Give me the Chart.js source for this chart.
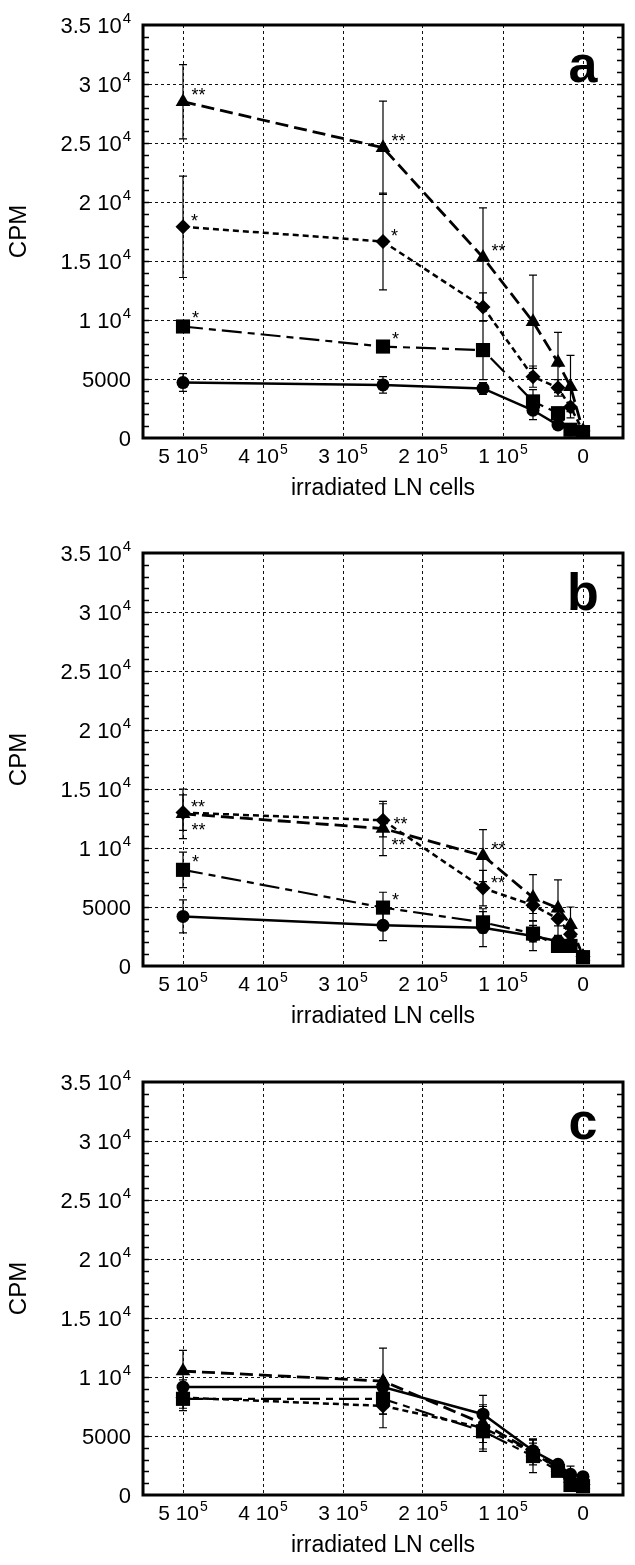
<!DOCTYPE html>
<html>
<head>
<meta charset="utf-8">
<script src="https://cdn.jsdelivr.net/npm/chart.js@4.4.1/dist/chart.umd.min.js"></script>
<style>
  body { margin: 0; background: #fff; }
  canvas { position: absolute; left: 0; }
</style>
</head>
<body>
<canvas id="panelA" width="635" height="528" style="top:0px;width:635px;height:528px"></canvas>
<canvas id="panelB" width="635" height="528" style="top:528px;width:635px;height:528px"></canvas>
<canvas id="panelC" width="635" height="508" style="top:1057px;width:635px;height:508px"></canvas>
<script>
// number of irradiated LN cells per well (x values, same for every series)
const cellCounts = [500000, 250000, 125000, 62500, 31250, 15625, 0];

// panel a  (CPM, mean and +/- error)
const circleA = [4700, 4500, 4200, 2350, 1100, 680, 450];
const circleErrA = [750, 700, 500, 800, 300, 200, 0];
const squareA = [9450, 7750, 7450, 3100, 2100, 700, 500];
const squareErrA = [300, 450, 2500, 1000, 500, 300, 0];
const diamondA = [17900, 16650, 11100, 5200, 4250, 2630, 600];
const diamondErrA = [4300, 4100, 1200, 900, 700, 400, 0];
const triangleA = [28500, 24600, 15300, 9850, 6400, 4350, 600];
const triangleErrA = [3150, 3950, 4200, 3950, 2550, 2650, 0];

// panel b
const circleB = [4200, 3450, 3250, 2550, 2100, 1700, 800];
const circleErrB = [1400, 1300, 1600, 1250, 500, 400, 0];
const squareB = [8150, 4950, 3700, 2750, 1700, 1700, 750];
const squareErrB = [1500, 1300, 900, 700, 300, 300, 0];
const diamondB = [13000, 12350, 6600, 5150, 4000, 2700, 800];
const diamondErrB = [1500, 1400, 1500, 700, 600, 400, 0];
const triangleB = [12900, 11650, 9350, 5800, 4900, 3500, 800];
const triangleErrB = [2100, 2300, 2200, 1950, 2400, 1500, 0];

// panel c
const circleC = [9150, 9150, 6850, 3750, 2600, 1750, 1550];
const circleErrC = [600, 600, 1600, 900, 300, 700, 0];
const squareC = [8150, 8150, 5400, 3300, 2050, 850, 750];
const squareErrC = [1000, 1300, 1700, 1400, 300, 200, 0];
const diamondC = [8250, 7550, 5700, 3600, 2200, 1350, 900];
const diamondErrC = [900, 1850, 1800, 800, 300, 300, 0];
const triangleC = [10500, 9650, 6050, 3650, 2300, 1400, 900];
const triangleErrC = [1750, 2800, 1600, 1100, 400, 600, 0];

// significance marks: [series, point index, text, where]
const starsA = [
  ["triangle", 0, "**", "up"], ["triangle", 1, "**", "up"], ["triangle", 2, "**", "up"],
  ["diamond", 0, "*", "up"], ["diamond", 1, "*", "up"],
  ["square", 0, "*", "up"], ["square", 1, "*", "up"],
];
const starsB = [
  ["diamond", 0, "**", "up"], ["triangle", 0, "**", "down"],
  ["diamond", 1, "**", "right"], ["triangle", 1, "**", "down"],
  ["triangle", 2, "**", "up"], ["diamond", 2, "**", "up"],
  ["square", 0, "*", "up"], ["square", 1, "*", "up"],
];
const starsC = [];

// tick labels (main part + superscript exponent)
const xTickValues = [500000, 400000, 300000, 200000, 100000, 0];
const xTickMain = ["5 10", "4 10", "3 10", "2 10", "1 10", "0"];
const xTickSup = ["5", "5", "5", "5", "5", ""];
const yTickValues = [0, 5000, 10000, 15000, 20000, 25000, 30000, 35000];
const yTickMain = ["0", "5000", "1 10", "1.5 10", "2 10", "2.5 10", "3 10", "3.5 10"];
const yTickSup = ["", "", "4", "4", "4", "4", "4", "4"];

const FONT = "'Liberation Sans', Arial, Helvetica, sans-serif";

const seriesStyle = {
  circle: { pointStyle: "circle", pointRadius: 6.5, borderDash: [], borderWidth: 2.5 },
  square: { pointStyle: "rect", pointRadius: 10, borderDash: [20, 6, 7, 6], borderWidth: 2.2 },
  diamond: { pointStyle: "rectRot", pointRadius: 7.5, borderDash: [6, 4], borderWidth: 2.5 },
  triangle: { pointStyle: "triangle", pointRadius: 8.5, borderDash: [13, 6], borderWidth: 2.8 },
};

function buildDatasets(series) {
  return ["circle", "square", "diamond", "triangle"].map((name) => ({
    label: name,
    data: cellCounts.map((x, i) => ({ x: x, y: series[name][i] })),
    borderColor: "#000",
    backgroundColor: "#000",
    pointBackgroundColor: "#000",
    pointBorderColor: "#000",
    pointBorderWidth: 0,
    tension: 0,
    ...seriesStyle[name],
  }));
}

// superscripted label: "3.5 10" + "4"
function drawPowLabel(ctx, x, y, main, sup, align, size) {
  const supSize = Math.round(size * 0.68);
  ctx.font = size + "px " + FONT;
  const w1 = ctx.measureText(main).width;
  ctx.font = supSize + "px " + FONT;
  const w2 = sup ? ctx.measureText(sup).width + 1 : 0;
  const left = align === "right" ? x - w1 - w2 : x - (w1 + w2) / 2;
  ctx.textAlign = "left";
  ctx.textBaseline = "alphabetic";
  ctx.font = size + "px " + FONT;
  ctx.fillText(main, left, y);
  if (sup) {
    ctx.font = supSize + "px " + FONT;
    ctx.fillText(sup, left + w1 + 1, y - size * 0.45);
  }
}

const decor = {
  id: "decor",
  beforeDatasetsDraw(chart, args, opts) {
    // error bars
    const ctx = chart.ctx, xs = chart.scales.x, ys = chart.scales.y;
    ctx.save();
    ctx.strokeStyle = "#000";
    ctx.lineWidth = 1.2;
    chart.data.datasets.forEach((ds) => {
      const errs = opts.errors[ds.label];
      ds.data.forEach((pt, i) => {
        if (!errs[i]) return;
        const x = xs.getPixelForValue(pt.x);
        const y1 = ys.getPixelForValue(pt.y + errs[i]);
        const y2 = ys.getPixelForValue(Math.max(pt.y - errs[i], 0));
        ctx.beginPath();
        ctx.moveTo(x, y1); ctx.lineTo(x, y2);
        ctx.moveTo(x - 4, y1); ctx.lineTo(x + 4, y1);
        ctx.moveTo(x - 4, y2); ctx.lineTo(x + 4, y2);
        ctx.stroke();
      });
    });
    ctx.restore();
  },
  afterDatasetsDraw(chart, args, opts) {
    const ctx = chart.ctx, xs = chart.scales.x, ys = chart.scales.y;
    const area = chart.chartArea;
    ctx.save();
    // stars
    ctx.fillStyle = "#000";
    ctx.font = "18px " + FONT;
    ctx.textAlign = "left";
    ctx.textBaseline = "alphabetic";
    opts.stars.forEach(([name, idx, text, where]) => {
      const ds = chart.data.datasets.find((d) => d.label === name);
      const px = xs.getPixelForValue(ds.data[idx].x);
      const py = ys.getPixelForValue(ds.data[idx].y);
      const r = ds.pointRadius;
      let dx = 5 + r * 0.4, dy = -r + 8;
      if (where === "down") dy = 22;
      if (where === "right") { dx = r + 3; dy = 10; }
      ctx.fillText(text, px + dx, py + dy);
    });
    // frame
    ctx.strokeStyle = "#000";
    ctx.lineWidth = 3;
    ctx.strokeRect(area.left, area.top, area.right - area.left, area.bottom - area.top);
    // minor ticks on y, both sides
    ctx.lineWidth = 1.5;
    ctx.beginPath();
    for (let v = 1000; v < 35000; v += 1000) {
      const y = Math.round(ys.getPixelForValue(v)) + 0.5;
      ctx.moveTo(area.left, y); ctx.lineTo(area.left + 6, y);
      ctx.moveTo(area.right - 6, y); ctx.lineTo(area.right, y);
    }
    ctx.stroke();
    // tick labels
    yTickValues.forEach((v, i) => {
      drawPowLabel(ctx, area.left - 12, ys.getPixelForValue(v) + 8, yTickMain[i], yTickSup[i], "right", 22);
    });
    xTickValues.forEach((v, i) => {
      drawPowLabel(ctx, xs.getPixelForValue(v), area.bottom + 25, xTickMain[i], xTickSup[i], "center", 21);
    });
    // axis titles
    ctx.font = "23px " + FONT;
    ctx.textAlign = "center";
    ctx.textBaseline = "alphabetic";
    ctx.fillText("irradiated LN cells", (area.left + area.right) / 2, area.bottom + 57);
    ctx.save();
    ctx.translate(19, (area.top + area.bottom) / 2);
    ctx.rotate(-Math.PI / 2);
    ctx.textBaseline = "middle";
    ctx.font = "24px " + FONT;
    ctx.fillText("CPM", 0, 0);
    ctx.restore();
    // panel letter
    ctx.font = "bold 52px " + FONT;
    ctx.textAlign = "center";
    ctx.fillText(opts.letter, area.right - 40, area.top + 57);
    ctx.restore();
  },
};

function loadPanel(canvasId, series, errors, stars, letter) {
  const canvas = document.getElementById(canvasId);
  const xAxisHeight = canvas.height - 438;
  return new Chart(canvas, {
    type: "line",
    data: { datasets: buildDatasets(series) },
    options: {
      responsive: false,
      animation: false,
      layout: { padding: { top: 25, right: 12, left: 0, bottom: 0 } },
      scales: {
        x: {
          type: "linear",
          min: -50000,
          max: 550000,
          reverse: true,
          afterBuildTicks: (s) => { s.ticks = xTickValues.map((v) => ({ value: v })); },
          afterFit: (s) => { s.height = xAxisHeight; },
          ticks: { display: false },
          grid: { color: "#111", lineWidth: 1, drawTicks: false },
          border: { display: false, dash: [3, 3] },
        },
        y: {
          type: "linear",
          min: 0,
          max: 35000,
          afterBuildTicks: (s) => { s.ticks = yTickValues.map((v) => ({ value: v })); },
          afterFit: (s) => { s.width = 143; },
          ticks: { display: false },
          grid: { color: "#111", lineWidth: 1, drawTicks: false },
          border: { display: false, dash: [3, 3] },
        },
      },
      plugins: {
        legend: { display: false },
        tooltip: { enabled: false },
        decor: { errors: errors, stars: stars, letter: letter },
      },
    },
    plugins: [decor],
  });
}

loadPanel("panelA",
  { circle: circleA, square: squareA, diamond: diamondA, triangle: triangleA },
  { circle: circleErrA, square: squareErrA, diamond: diamondErrA, triangle: triangleErrA },
  starsA, "a");
loadPanel("panelB",
  { circle: circleB, square: squareB, diamond: diamondB, triangle: triangleB },
  { circle: circleErrB, square: squareErrB, diamond: diamondErrB, triangle: triangleErrB },
  starsB, "b");
loadPanel("panelC",
  { circle: circleC, square: squareC, diamond: diamondC, triangle: triangleC },
  { circle: circleErrC, square: squareErrC, diamond: diamondErrC, triangle: triangleErrC },
  starsC, "c");
</script>
</body>
</html>
